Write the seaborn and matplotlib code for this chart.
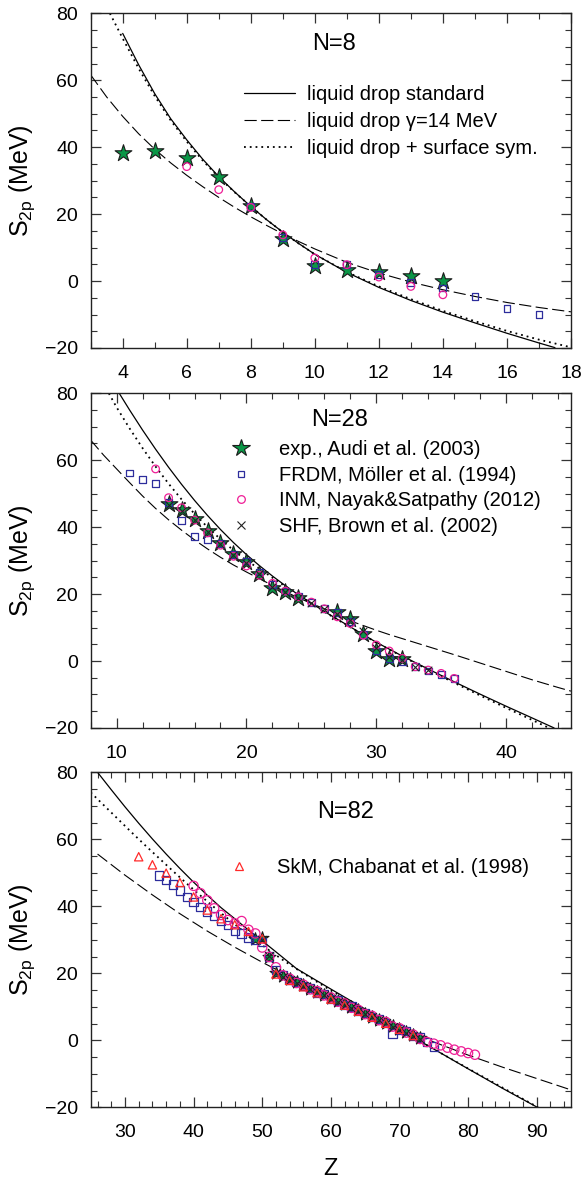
import seaborn as sns
import matplotlib.pyplot as plt
from matplotlib.lines import Line2D
from matplotlib.ticker import MultipleLocator

sns.set_style('ticks')
plt.rcParams['font.family'] = ['Liberation Sans', 'DejaVu Sans']
plt.rcParams['mathtext.fontset'] = 'custom'
plt.rcParams['mathtext.rm'] = 'Liberation Sans'
plt.rcParams['text.color'] = 'black'
plt.rcParams['axes.labelcolor'] = 'black'
plt.rcParams['xtick.labelcolor'] = 'black'
plt.rcParams['ytick.labelcolor'] = 'black'

# ---------------- N = 8 ----------------
z8_std = [4, 4.5, 5, 5.5, 6, 6.5, 7, 7.5, 8, 8.5, 9, 9.5, 10, 11, 12, 13, 14, 15, 16, 17, 17.5]
s8_std = [74, 64.6, 56, 48.5, 42.2, 36.4, 31.2, 26.6, 22.3, 18.3, 14.6, 11.2, 8.0, 2.6, -1.9, -5.8, -9.3, -12.5, -15.6, -18.5, -19.9]
z8_gam = [3, 3.5, 4, 4.5, 5, 5.5, 6, 6.5, 7, 7.5, 8, 8.5, 9, 9.5, 10, 11, 12, 13, 14, 15, 16, 17, 18]
s8_gam = [61.6, 55.0, 49.2, 44.0, 39.4, 35.3, 31.6, 28.2, 25.0, 22.0, 19.2, 16.6, 14.1, 11.8, 9.6, 5.6, 2.4, -0.3, -2.6, -4.6, -6.4, -7.9, -9.2]
z8_sur = [3.6, 4, 4.5, 5, 5.5, 6, 6.5, 7, 7.5, 8, 8.5, 9, 9.5, 10, 11, 12, 13, 14, 15, 16, 17, 18]
s8_sur = [80, 72.5, 63.5, 55.3, 48.0, 41.7, 36.0, 31.0, 26.5, 22.3, 18.3, 14.6, 11.2, 8.0, 2.7, -1.6, -5.4, -8.9, -12.0, -14.9, -17.5, -19.8]

z8_exp = [4, 5, 6, 7, 8, 9, 10, 11, 12, 13, 14]
s8_exp = [38.2, 38.9, 36.7, 31.0, 22.3, 12.6, 4.4, 3.4, 2.6, 1.6, 0.1]
z8_frdm = [8, 9, 10, 11, 12, 13, 14, 15, 16, 17]
s8_frdm = [22.3, 13.0, 5.0, 4.9, 1.9, -0.4, -2.1, -4.6, -8.1, -9.9]
z8_inm = [6, 7, 8, 9, 10, 11, 12, 13, 14]
s8_inm = [34.2, 27.3, 22.0, 13.8, 6.9, 4.9, 1.2, -1.6, -4.1]

# ---------------- N = 28 ----------------
z28_std = [10.2, 11, 12, 13, 14, 15, 16, 17, 18, 19, 20, 21, 22, 23, 24, 26, 28, 30, 32, 34, 36, 38, 40, 42, 43.7]
s28_std = [80, 75.0, 69.0, 63.3, 57.9, 52.8, 48.0, 43.5, 39.3, 35.4, 31.8, 28.5, 25.4, 22.5, 19.8, 14.8, 10.2, 5.6, 1.5, -2.4, -6.2, -9.9, -13.5, -17.0, -20]
z28_gam = [8, 9, 10, 11, 12, 13, 14, 15, 16, 17, 18, 19, 20, 21, 22, 23, 24, 25, 26, 27, 28, 29, 30, 31, 32, 34, 36, 38, 40, 42, 44, 45]
s28_gam = [66.0, 61.5, 57.4, 53.3, 49.3, 45.6, 42.2, 39.1, 36.2, 33.5, 31.0, 28.7, 26.6, 24.6, 22.6, 20.7, 18.9, 17.2, 15.6, 14.0, 12.0, 10.6, 9.2, 7.9, 6.7, 4.3, 1.9, -0.6, -3.1, -5.6, -7.9, -9.0]
z28_sur = [9.4, 10, 11, 12, 13, 14, 15, 16, 17, 18, 19, 20, 21, 22, 23, 24, 26, 28, 30, 32, 34, 36, 38, 40, 42, 43.3]
s28_sur = [80, 75.8, 69.5, 63.6, 58.1, 53.0, 48.3, 44.0, 40.0, 36.4, 33.1, 30.0, 27.6, 24.9, 22.3, 19.7, 14.7, 10.1, 5.5, 1.4, -2.6, -6.5, -10.3, -14.0, -17.6, -20]

z28_exp = [14, 15, 16, 17, 18, 19, 20, 21, 22, 23, 24, 27, 28, 29, 30, 31, 32]
s28_exp = [46.8, 45.1, 42.3, 38.8, 35.3, 32.1, 29.6, 25.9, 21.9, 20.6, 18.9, 14.6, 12.6, 8.0, 3.0, 0.5, 0.7]
z28_frdm = [11, 12, 13, 14, 15, 16, 17, 18, 19, 20, 21, 22, 23, 24, 25, 26, 27, 28, 29, 30, 31, 32, 33, 34, 35, 36]
s28_frdm = [56.2, 54.2, 53.0, 47.3, 42.1, 37.1, 36.3, 35.1, 31.8, 29.9, 26.6, 22.9, 20.9, 19.4, 17.6, 15.6, 14.4, 11.9, 8.0, 3.0, 0.7, -0.3, -1.7, -3.0, -4.0, -5.2]
z28_inm = [13, 14, 15, 16, 17, 18, 19, 20, 21, 22, 23, 24, 25, 26, 27, 28, 29, 30, 31, 32, 33, 34, 35, 36]
s28_inm = [57.4, 48.8, 45.8, 42.1, 38.3, 34.6, 31.3, 28.4, 25.6, 23.2, 20.9, 19.2, 17.6, 15.6, 13.2, 11.2, 7.7, 4.8, 3.0, 0.8, -1.7, -2.7, -3.7, -5.2]
z28_shf = [14, 15, 16, 17, 18, 19, 20, 21, 22, 23, 24, 25, 26, 27, 28, 29, 30, 31, 32, 33, 34]
s28_shf = [46.6, 44.8, 42.0, 38.6, 35.0, 31.8, 29.4, 26.0, 22.2, 20.5, 18.8, 17.4, 15.4, 14.0, 12.2, 9.0, 3.8, 1.3, 0.4, -1.8, -2.8]

# ---------------- N = 82 ----------------
z82_std = [26, 28, 30, 32, 34, 36, 38, 40, 42, 44, 46, 48, 50, 52, 55, 60, 65, 70, 75, 80, 85, 90.1]
s82_std = [80, 74.8, 69.7, 64.8, 60.1, 55.6, 51.3, 47.2, 43.3, 39.6, 36.3, 32.9, 29.7, 26.4, 21.4, 15.3, 9.3, 3.3, -2.6, -8.5, -14.3, -20]
z82_gam = [26, 30, 34, 38, 42, 46, 50, 55, 60, 65, 70, 75, 80, 85, 90, 95]
s82_gam = [55.6, 49.3, 43.4, 37.8, 32.6, 27.8, 23.3, 18.0, 13.0, 8.2, 3.7, -0.5, -4.4, -8.0, -11.4, -14.8]
z82_sur = [25, 27, 29, 31, 33, 35, 37, 39, 41, 43, 45, 47, 49, 51, 53, 55, 57, 60, 65, 70, 75, 80, 85, 90.2]
s82_sur = [74.0, 70.0, 66.0, 62.0, 58.1, 54.3, 50.5, 46.8, 43.2, 39.7, 36.3, 33.0, 29.9, 26.9, 24.0, 21.3, 18.7, 14.9, 9.0, 3.2, -2.6, -8.4, -14.1, -20]

z82_exp = [49, 50, 51, 52, 53, 54, 55, 56, 57, 58, 59, 60, 61, 62, 63, 64, 65, 66, 67, 68, 69, 70, 71, 72, 73]
s82_exp = [30.2, 30.4, 24.8, 20.2, 19.2, 18.2, 17.3, 16.4, 15.4, 14.5, 13.6, 12.6, 11.7, 10.8, 9.9, 8.9, 8.0, 7.1, 6.2, 5.3, 4.3, 3.4, 2.5, 1.5, 0.6]
z82_frdm = [35, 36, 37, 38, 39, 40, 41, 42, 43, 44, 45, 46, 47, 48, 49, 50, 51, 52, 53, 54, 55, 56, 57, 58, 59, 60,
            61, 62, 63, 64, 65, 66, 67, 68, 69, 70, 71, 72, 73, 74, 75]
s82_frdm = [49.2, 47.9, 46.5, 44.7, 42.7, 41.2, 39.7, 38.5, 37.2, 35.7, 34.5, 32.7, 31.9, 30.7, 30.0, 29.4, 25.0, 21.0, 19.5, 18.0, 17.5, 16.2, 15.6, 14.3, 13.8, 12.4,
            11.9, 10.6, 10.1, 8.7, 8.2, 6.9, 6.4, 5.1, 2.0, 3.2, 2.7, 1.3, 0.8, -0.5, -1.8]
z82_inm = [40, 41, 42, 43, 44, 45, 46, 47, 48, 49, 50, 51, 52, 53, 54, 55, 56, 57, 58, 59, 60, 61, 62, 63, 64, 65,
           66, 67, 68, 69, 70, 71, 72, 73, 74, 75, 76, 77, 78, 79, 80, 81]
s82_inm = [46.1, 43.9, 41.8, 39.4, 37.4, 35.9, 34.9, 35.6, 33.0, 31.9, 27.7, 24.9, 21.8, 19.4, 18.4, 17.1, 16.6, 15.2, 14.7, 13.4, 12.8, 11.5, 11.0, 9.7, 9.1, 7.8,
           7.3, 6.0, 5.5, 4.1, 3.6, 2.3, 1.7, 0.4, -0.5, -1.0, -1.5, -2.2, -2.8, -3.3, -3.8, -4.3]
z82_shf = [50, 51, 52, 53, 54, 55, 56, 57, 58, 59, 60, 61, 62, 63, 64, 65, 66, 67, 68, 69, 70, 71, 72, 73]
s82_shf = [29.8, 25.2, 20.0, 19.0, 18.0, 17.1, 16.2, 15.2, 14.3, 13.4, 12.4, 11.5, 10.6, 9.7, 8.7, 7.8, 6.9, 6.0, 5.1, 4.1, 3.2, 2.3, 1.3, 0.4]
z82_skm = [32, 34, 36, 38, 40, 42, 44, 46, 48, 50, 52, 54, 56, 58, 60, 62, 64, 66, 68, 70, 72]
s82_skm = [54.8, 52.4, 49.9, 47.1, 42.8, 38.9, 36.3, 34.5, 32.5, 30.3, 19.8, 17.9, 16.0, 14.2, 12.3, 10.5, 8.7, 6.9, 5.1, 3.3, 1.4]

labels_lines = ['liquid drop standard', 'liquid drop \u03b3=14 MeV', 'liquid drop + surface sym.']
labels_pts = ['exp., Audi et al. (2003)', 'FRDM, M\u00f6ller et al. (1994)',
              'INM, Nayak&Satpathy (2012)', 'SHF, Brown et al. (2002)']
label_skm = 'SkM, Chabanat et al. (1998)'

green = '#0a9646'
blue = '#2d2d9c'
pink = '#ee1e96'
red = '#ff2a2a'
dash = (0, (11, 4))
dot = (0, (1, 2.2))

fig = plt.figure(figsize=(5.85, 11.8), dpi=100)
ax1 = fig.add_axes([0.155, 0.7051, 0.821, 0.2836])
ax2 = fig.add_axes([0.155, 0.3831, 0.821, 0.2836])
ax3 = fig.add_axes([0.155, 0.0616, 0.821, 0.2839])


def curves(ax, zs, ss, zg, sg, zu, su):
    sns.lineplot(x=zs, y=ss, ax=ax, color='k', lw=0.9, sort=False, estimator=None)
    sns.lineplot(x=zg, y=sg, ax=ax, color='k', lw=0.8, linestyle=dash, sort=False, estimator=None)
    sns.lineplot(x=zu, y=su, ax=ax, color='k', lw=1.3, linestyle=dot, sort=False, estimator=None)


def points(ax, z, s, kind, size):
    if kind == 'exp':
        sns.scatterplot(x=z, y=s, ax=ax, marker='*', s=size, color=green, edgecolor='#1b1b1b', linewidth=0.8, zorder=3)
    elif kind == 'frdm':
        sns.scatterplot(x=z, y=s, ax=ax, marker='s', s=size, facecolor='none', edgecolor=blue, linewidth=0.9, zorder=4)
    elif kind == 'inm':
        sns.scatterplot(x=z, y=s, ax=ax, marker='o', s=size, facecolor='none', edgecolor=pink, linewidth=0.9, zorder=5)
    elif kind == 'shf':
        sns.scatterplot(x=z, y=s, ax=ax, marker='x', s=size, color='#222222', linewidth=0.8, zorder=6)
    elif kind == 'skm':
        sns.scatterplot(x=z, y=s, ax=ax, marker='^', s=size, facecolor='none', edgecolor=red, linewidth=0.9, zorder=7)


curves(ax1, z8_std, s8_std, z8_gam, s8_gam, z8_sur, s8_sur)
points(ax1, z8_exp, s8_exp, 'exp', 160)
points(ax1, z8_frdm, s8_frdm, 'frdm', 24)
points(ax1, z8_inm, s8_inm, 'inm', 30)

curves(ax2, z28_std, s28_std, z28_gam, s28_gam, z28_sur, s28_sur)
points(ax2, z28_exp, s28_exp, 'exp', 160)
points(ax2, z28_frdm, s28_frdm, 'frdm', 24)
points(ax2, z28_inm, s28_inm, 'inm', 30)
points(ax2, z28_shf, s28_shf, 'shf', 30)

curves(ax3, z82_std, s82_std, z82_gam, s82_gam, z82_sur, s82_sur)
points(ax3, z82_exp, s82_exp, 'exp', 95)
points(ax3, z82_frdm, s82_frdm, 'frdm', 36)
points(ax3, z82_inm, s82_inm, 'inm', 45)
points(ax3, z82_shf, s82_shf, 'shf', 40)
points(ax3, z82_skm, s82_skm, 'skm', 36)

limits = [(3, 18, 2, 1), (8, 45, 10, 2), (25, 95, 10, 2)]
for ax, (x0, x1, maj, mnr) in zip([ax1, ax2, ax3], limits):
    ax.set_xlim(x0, x1)
    ax.set_ylim(-20, 80)
    ax.xaxis.set_major_locator(MultipleLocator(maj))
    ax.xaxis.set_minor_locator(MultipleLocator(mnr))
    ax.yaxis.set_major_locator(MultipleLocator(20))
    ax.yaxis.set_minor_locator(MultipleLocator(5))
    ax.tick_params(which='both', direction='in', top=True, right=True, color='#333333', labelsize=14)
    ax.tick_params(which='major', length=7, width=0.9)
    ax.tick_params(which='minor', length=4.5, width=0.8)
    ax.tick_params(axis='x', pad=12)
    ax.tick_params(axis='y', pad=9)
    for sp in ax.spines.values():
        sp.set_linewidth(1.0)
        sp.set_color('#222222')
    ax.set_ylabel(r'S$_{\rm 2p}$ (MeV)', fontsize=18)
    ax.yaxis.set_label_coords(-0.112, 0.5)
    ax.set_xlabel('')

ax3.set_xlabel('Z', fontsize=17)
ax3.xaxis.set_label_coords(0.5, -0.151)

ax1.text(0.507, 0.908, 'N=8', transform=ax1.transAxes, ha='center', va='center', fontsize=17)
ax2.text(0.519, 0.920, 'N=28', transform=ax2.transAxes, ha='center', va='center', fontsize=17)
ax3.text(0.531, 0.883, 'N=82', transform=ax3.transAxes, ha='center', va='center', fontsize=17)

line_handles = [Line2D([], [], color='k', lw=0.9),
                Line2D([], [], color='k', lw=0.8, linestyle=dash),
                Line2D([], [], color='k', lw=1.3, linestyle=dot)]
ax1.legend(line_handles, labels_lines, loc='upper left', bbox_to_anchor=(0.319, 0.787), frameon=False,
           fontsize=14.5, borderpad=0, borderaxespad=0, handlelength=2.55, handletextpad=0.6, labelspacing=0.4)

pt_handles = [Line2D([], [], ls='none', marker='*', ms=13, mfc=green, mec='#1b1b1b', mew=0.8),
              Line2D([], [], ls='none', marker='s', ms=5, mfc='none', mec=blue, mew=0.9),
              Line2D([], [], ls='none', marker='o', ms=5.5, mfc='none', mec=pink, mew=0.9),
              Line2D([], [], ls='none', marker='x', ms=6, color='#222222', mew=0.8)]
ax2.legend(pt_handles, labels_pts, loc='upper left', bbox_to_anchor=(0.292, 0.860), frameon=False,
           fontsize=14.5, borderpad=0, borderaxespad=0, handlelength=1.0, handletextpad=1.4, labelspacing=0.33)

skm_handle = [Line2D([], [], ls='none', marker='^', ms=6, mfc='none', mec=red, mew=0.9)]
ax3.legend(skm_handle, [label_skm], loc='upper left', bbox_to_anchor=(0.288, 0.745), frameon=False,
           fontsize=14.5, borderpad=0, borderaxespad=0, handlelength=1.0, handletextpad=1.4)

fig.savefig('out.png', dpi=100)
